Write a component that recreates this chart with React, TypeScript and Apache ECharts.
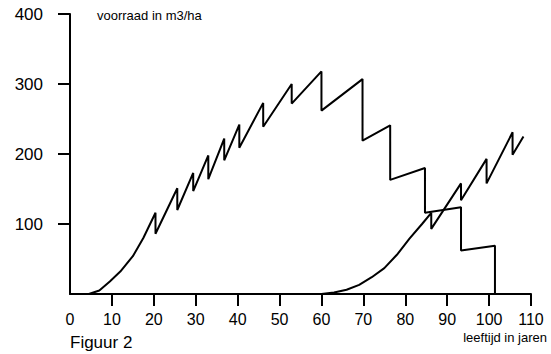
import React, { useEffect, useRef } from "react";
import * as echarts from "echarts";

const xTickValues = [10, 20, 30, 40, 50, 60, 70, 80, 90, 100, 110];
const xLabelValues = [0, 10, 20, 30, 40, 50, 60, 70, 80, 90, 100, 110];
const yTickValues = [100, 200, 300, 400];

// first rotation: age (years) and standing volume (m3/ha)
const rotationOneAge = [4.5, 7, 9.5, 12, 15, 17.5, 20.4, 20.4, 25.6, 25.6, 29.4, 29.4, 33, 33, 36.8, 36.8, 40.4, 40.4, 46.1, 46.1, 52.9, 52.9, 60, 60, 69.8, 69.8, 76.4, 76.4, 84.7, 84.7, 93.3, 93.3, 101.4, 101.4];
const rotationOneVolume = [0, 5, 18, 32, 54, 80, 116, 86, 151, 120, 173, 147, 198, 164, 222, 191, 242, 209, 273, 239, 300, 272, 318, 262, 307, 219, 241, 163, 180, 116, 124, 62, 69, 0];

// second rotation
const rotationTwoAge = [60, 63, 66, 69, 72, 75, 78, 81, 84, 86.2, 86.2, 93.3, 93.3, 99.4, 99.4, 105.6, 105.6, 108.2];
const rotationTwoVolume = [0, 2, 6, 13, 24, 37, 56, 79, 100, 116, 93, 158, 134, 193, 158, 231, 199, 225];

const yAxisTitle = "voorraad in m3/ha";
const xAxisTitle = "leeftijd in jaren";
const figureCaption = "Figuur 2";

const FONT = "Liberation Sans, Arial, Helvetica, sans-serif";

export default function App() {
  const ref = useRef<HTMLDivElement>(null);
  useEffect(() => {
    if (!ref.current) return;
    const chart = echarts.init(ref.current, null, { renderer: "svg" });
    const pair = (xs: number[], ys: number[]) => xs.map((x, i) => [x, ys[i]]);
    chart.setOption({
      animation: false,
      backgroundColor: "#ffffff",
      grid: { left: 70, right: 20, top: 14, bottom: 60, containLabel: false, outerBoundsMode: "none" },
      xAxis: {
        type: "value",
        min: 0,
        max: 110,
        interval: 10,
        axisLine: { show: true, lineStyle: { color: "#000", width: 2 } },
        axisTick: { show: true, length: 12, lineStyle: { color: "#000", width: 2 }, customValues: xTickValues },
        axisLabel: { color: "#000", fontSize: 16, fontFamily: FONT, margin: 17, lineHeight: 16, customValues: xLabelValues },
        splitLine: { show: false },
      },
      yAxis: {
        type: "value",
        min: 0,
        max: 400,
        interval: 100,
        axisLine: { show: true, lineStyle: { color: "#000", width: 2 } },
        axisTick: { show: true, length: 12, lineStyle: { color: "#000", width: 2 }, customValues: yTickValues },
        axisLabel: { color: "#000", fontSize: 17, fontFamily: FONT, margin: 27, customValues: yTickValues },
        splitLine: { show: false },
      },
      graphic: [
        { type: "text", left: 97, top: 9, style: { text: yAxisTitle, font: `13px ${FONT}`, fill: "#000" } },
        { type: "text", right: 4, top: 331, style: { text: xAxisTitle, font: `13px ${FONT}`, fill: "#000" } },
        { type: "text", left: 70, top: 334, style: { text: figureCaption, font: `17px ${FONT}`, fill: "#000" } },
      ],
      series: [
        {
          type: "line",
          data: pair(rotationOneAge, rotationOneVolume),
          showSymbol: false,
          lineStyle: { color: "#000", width: 2 },
          z: 3,
        },
        {
          type: "line",
          data: pair(rotationTwoAge, rotationTwoVolume),
          showSymbol: false,
          lineStyle: { color: "#000", width: 2 },
          z: 3,
        },
      ],
    });
    return () => chart.dispose();
  }, []);
  return <div ref={ref} style={{ width: 551, height: 354, position: "absolute", left: 0, top: 0 }} />;
}
